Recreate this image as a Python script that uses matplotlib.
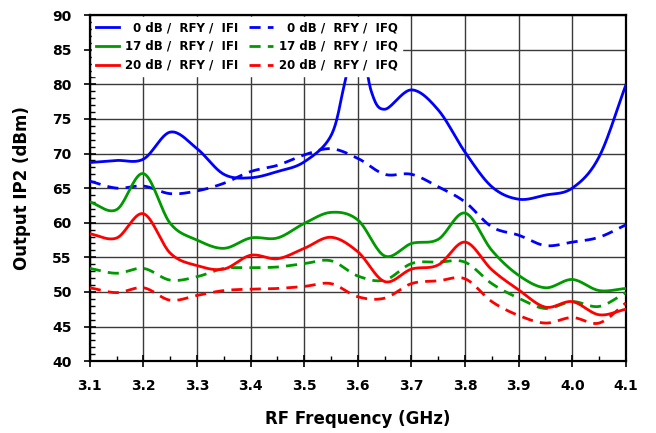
import numpy as np
import matplotlib
matplotlib.use("Agg")
from matplotlib import pyplot as plt
from matplotlib.ticker import MultipleLocator, FormatStrFormatter

# frequencies (GHz), 50 MHz steps
freq = [3.10, 3.15, 3.20, 3.25, 3.30, 3.35, 3.40, 3.45, 3.50, 3.55, 3.60,
        3.65, 3.70, 3.75, 3.80, 3.85, 3.90, 3.95, 4.00, 4.05, 4.10]
# 0 dB IFI has extra points around the spike near 3.6 GHz
freq_0db_ifi = [3.10, 3.15, 3.20, 3.25, 3.30, 3.35, 3.40, 3.45, 3.50, 3.55, 3.575,
                3.60, 3.625, 3.65, 3.70, 3.75, 3.80, 3.85, 3.90, 3.95, 4.00, 4.05, 4.10]

ip2_0db_ifi = [68.7, 69.0, 69.2, 73.1, 70.7, 67.0, 66.5, 67.4, 68.8, 72.6, 80.0,
               88.0, 79.0, 76.4, 79.2, 76.3, 70.2, 65.2, 63.4, 64.0, 65.0, 69.5, 79.9]
ip2_0db_ifq = [66.0, 65.0, 65.3, 64.2, 64.6, 65.7, 67.4, 68.3, 69.8, 70.7, 69.3,
               67.0, 67.0, 65.2, 63.0, 59.4, 58.2, 56.7, 57.2, 57.9, 59.7]
ip2_17db_ifi = [63.0, 61.9, 67.1, 59.9, 57.5, 56.3, 57.8, 57.8, 59.9, 61.5, 60.4,
                55.2, 57.0, 57.6, 61.4, 56.0, 52.4, 50.6, 51.8, 50.2, 50.5]
ip2_17db_ifq = [53.4, 52.7, 53.4, 51.7, 52.2, 53.4, 53.5, 53.6, 54.1, 54.5, 52.3,
                51.7, 54.1, 54.3, 54.3, 51.2, 49.1, 47.6, 48.6, 47.9, 49.9]
ip2_20db_ifi = [58.4, 57.8, 61.3, 55.6, 53.8, 53.3, 55.3, 54.8, 56.3, 57.9, 55.8,
                51.5, 53.3, 53.9, 57.2, 53.2, 50.3, 47.8, 48.6, 46.7, 47.5]
ip2_20db_ifq = [50.6, 49.9, 50.6, 48.8, 49.5, 50.2, 50.4, 50.5, 50.8, 51.2, 49.3,
                49.1, 51.2, 51.6, 51.9, 48.6, 46.6, 45.5, 46.3, 45.5, 48.4]

labels = ["\u20070 dB /  RFY /  IFI", "\u20070 dB /  RFY /  IFQ",
          "17 dB /  RFY /  IFI", "17 dB /  RFY /  IFQ",
          "20 dB /  RFY /  IFI", "20 dB /  RFY /  IFQ"]


def smooth(x, y, n=20):
    # Catmull-Rom curve through the points, like a spreadsheet "smoothed line"
    x = np.asarray(x, float)
    y = np.asarray(y, float)
    px = np.concatenate([[2 * x[0] - x[1]], x, [2 * x[-1] - x[-2]]])
    py = np.concatenate([[2 * y[0] - y[1]], y, [2 * y[-1] - y[-2]]])
    t = np.linspace(0, 1, n, endpoint=False)
    xs, ys = [], []
    for i in range(1, len(px) - 2):
        for p, out in ((px, xs), (py, ys)):
            p0, p1, p2, p3 = p[i - 1], p[i], p[i + 1], p[i + 2]
            out.append(0.5 * (2 * p1 + (-p0 + p2) * t
                              + (2 * p0 - 5 * p1 + 4 * p2 - p3) * t ** 2
                              + (-p0 + 3 * p1 - 3 * p2 + p3) * t ** 3))
    xs.append([x[-1]])
    ys.append([y[-1]])
    return np.concatenate(xs), np.concatenate(ys)


plt.rcParams['font.family'] = 'DejaVu Sans'
plt.rcParams['font.weight'] = 'bold'

fig = plt.figure(figsize=(6.56, 4.33), dpi=100)
ax = fig.add_axes([0.137, 0.166, 0.817, 0.799])

series = [
    (freq_0db_ifi, ip2_0db_ifi, '#0000ff', '-'),
    (freq, ip2_0db_ifq, '#0000ff', '--'),
    (freq, ip2_17db_ifi, '#009900', '-'),
    (freq, ip2_17db_ifq, '#009900', '--'),
    (freq, ip2_20db_ifi, '#ff0000', '-'),
    (freq, ip2_20db_ifq, '#ff0000', '--'),
]
handles = []
for (fx, fy, col, ls), lab in zip(series, labels):
    sx, sy = smooth(fx, fy)
    line, = ax.plot(sx, sy, color=col, lw=2.0, label=lab, zorder=3)
    if ls == '--':
        line.set_dashes((4, 2.6))
    handles.append(line)

ax.set_xlim(3.1, 4.1)
ax.set_ylim(40, 90)
ax.xaxis.set_major_locator(MultipleLocator(0.1))
ax.xaxis.set_minor_locator(MultipleLocator(0.05))
ax.yaxis.set_major_locator(MultipleLocator(5))
ax.yaxis.set_minor_locator(MultipleLocator(1))
ax.xaxis.set_major_formatter(FormatStrFormatter('%.1f'))

ax.grid(which='major', color='#3a3a3a', lw=1.0, zorder=1)
ax.tick_params(which='major', direction='inout', length=8, width=1.2,
               labelsize=10)
ax.tick_params(axis='x', which='major', pad=9)
ax.tick_params(axis='y', which='major', pad=9)
ax.tick_params(which='minor', direction='in', length=3.5, width=1.0)
for lbl in ax.get_xticklabels() + ax.get_yticklabels():
    lbl.set_fontweight('bold')
for sp in ax.spines.values():
    sp.set_linewidth(1.6)

ax.set_xlabel('RF Frequency (GHz)', fontsize=12, fontweight='bold', labelpad=12)
ax.set_ylabel('Output IP2 (dBm)', fontsize=12, fontweight='bold', labelpad=15)

# row-wise order: IFI entries in the left column, IFQ entries in the right
order = [0, 2, 4, 1, 3, 5]
leg = ax.legend([handles[i] for i in order], [labels[i] for i in order],
                loc='upper left', ncol=2, frameon=True,
                handlelength=2.0, handletextpad=0.5, columnspacing=0.9,
                labelspacing=0.5, borderaxespad=0.15, borderpad=0.35,
                prop={'weight': 'bold', 'size': 8.5})
leg.get_frame().set_edgecolor('white')
leg.get_frame().set_facecolor('white')
leg.get_frame().set_alpha(1.0)
leg.get_frame().set_boxstyle('square', pad=0.0)
leg.set_zorder(5)

fig.savefig('out.png', dpi=100)
